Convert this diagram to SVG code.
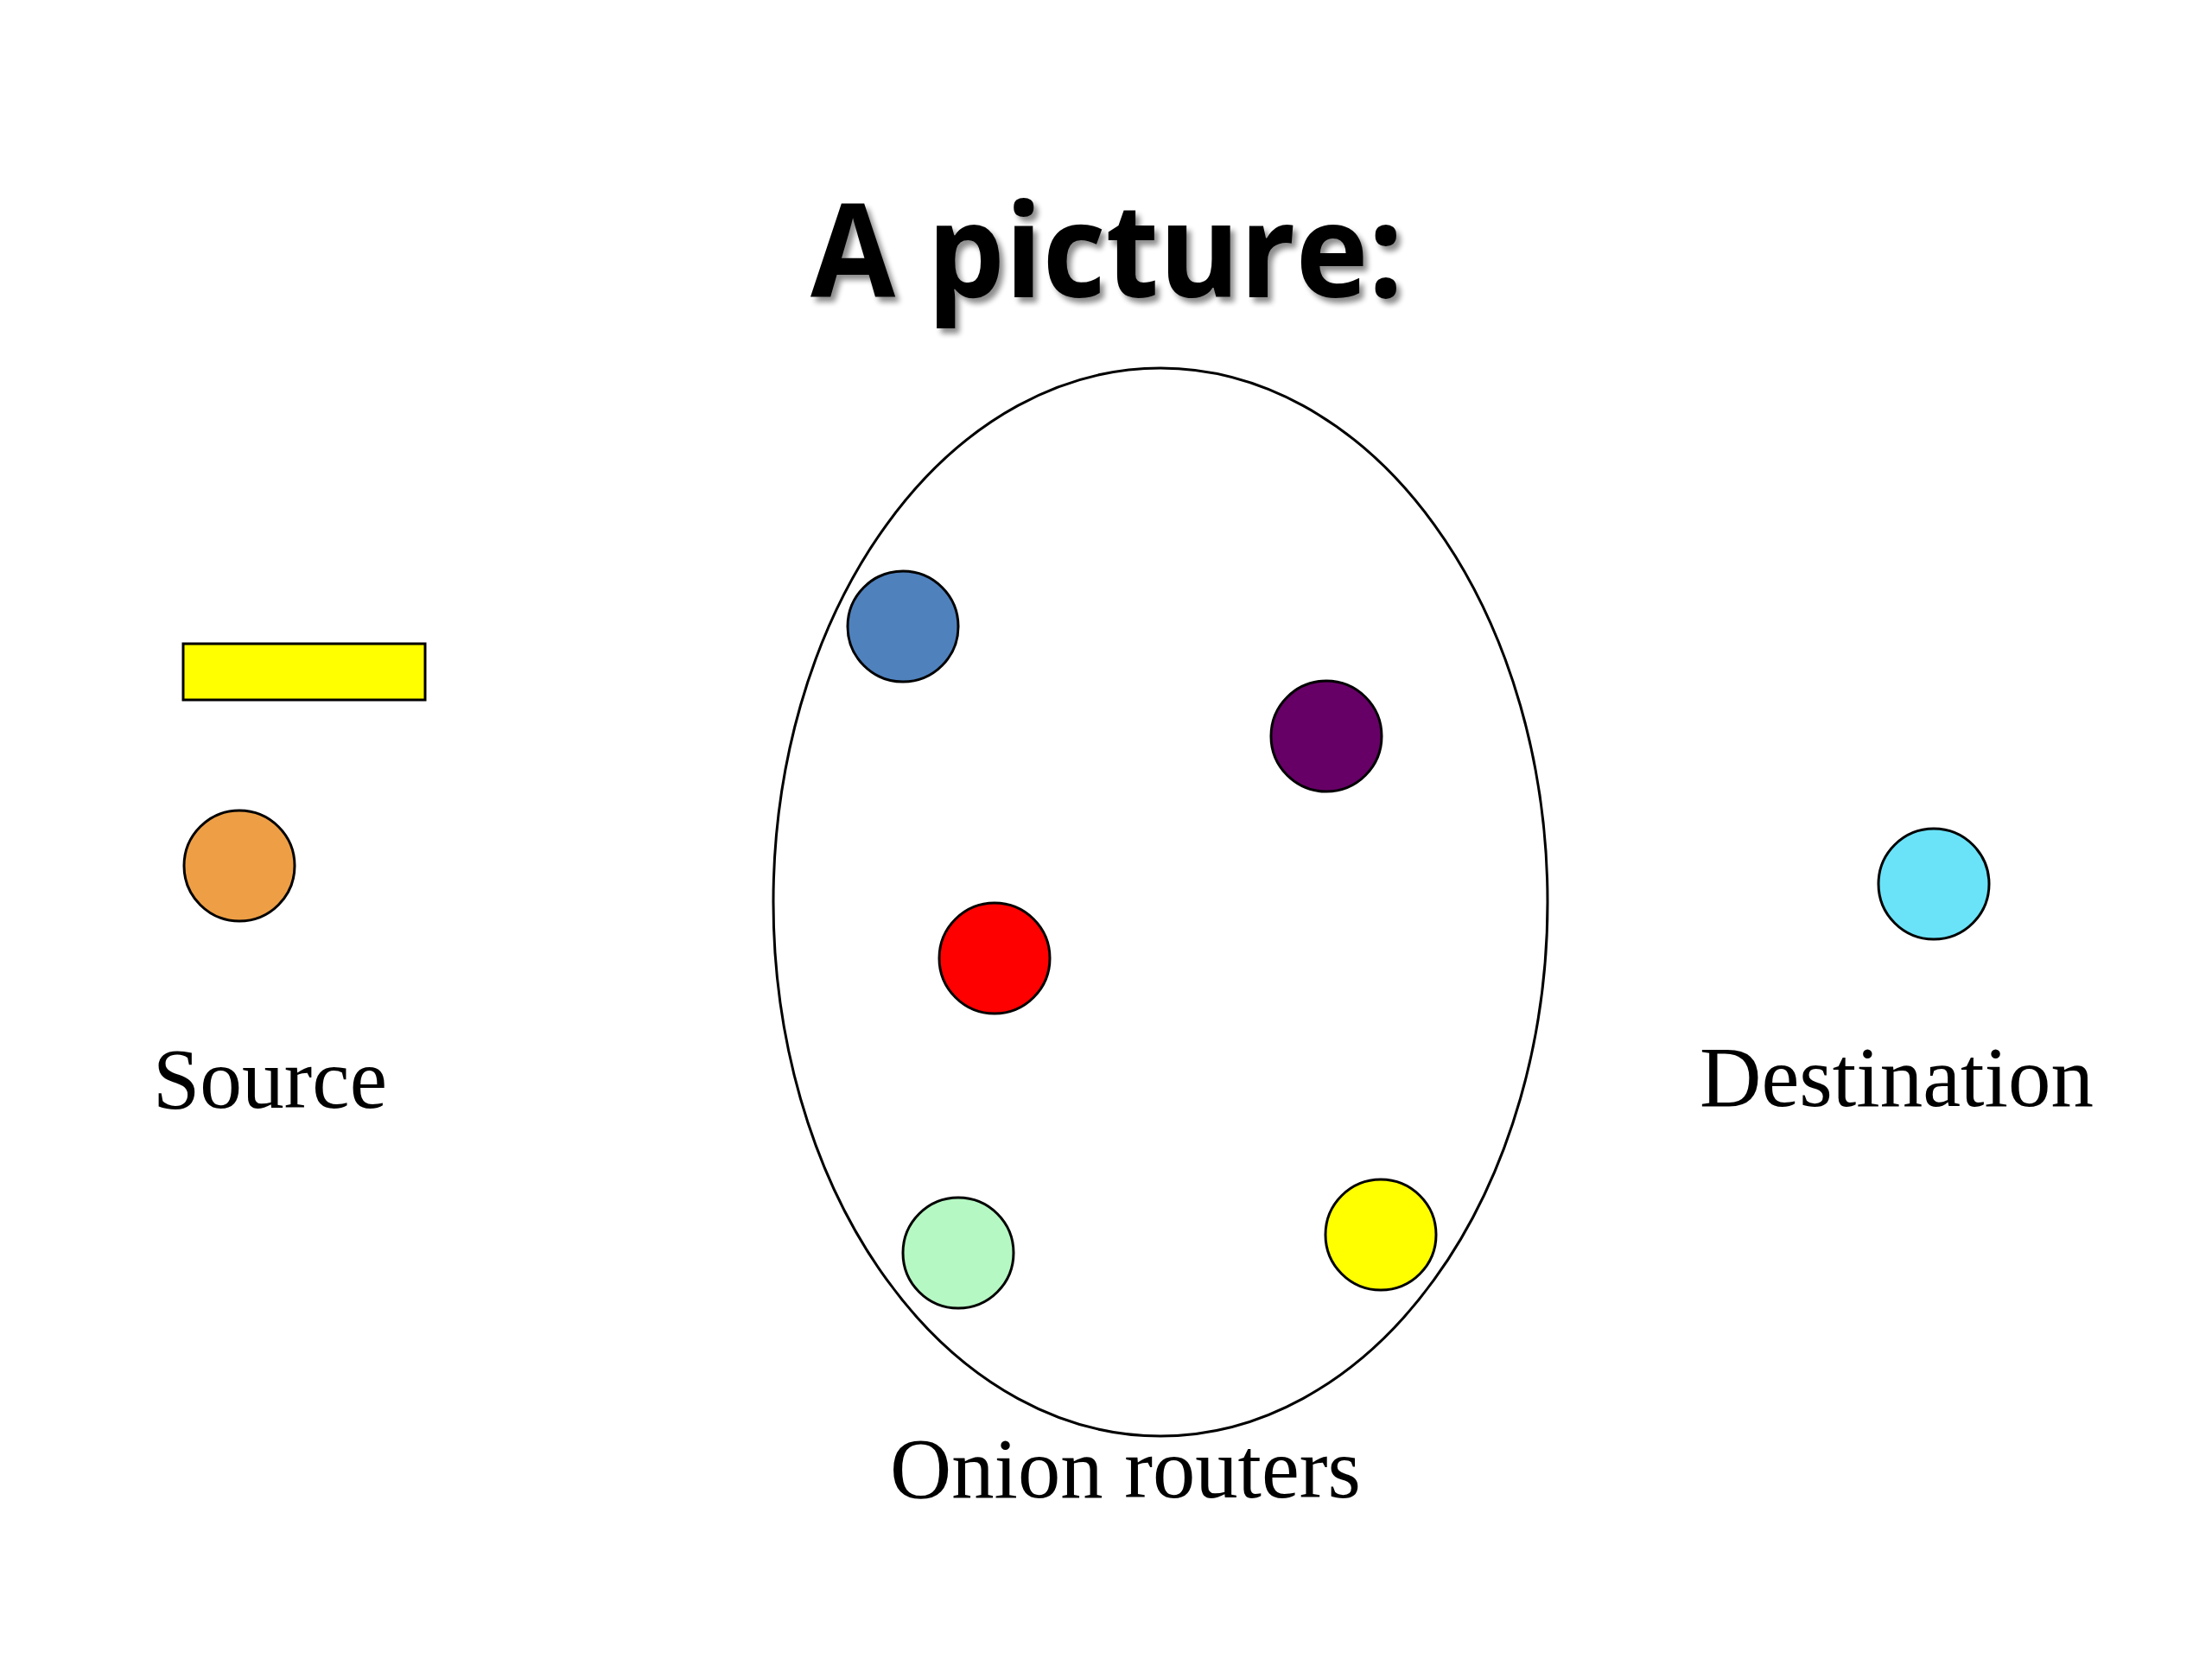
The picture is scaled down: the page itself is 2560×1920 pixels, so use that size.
<svg xmlns="http://www.w3.org/2000/svg" width="2560" height="1920" viewBox="0 0 2560 1920">
  <defs>
    <filter id="shadow" x="-10%" y="-20%" width="120%" height="150%">
      <feGaussianBlur in="SourceAlpha" stdDeviation="3"/>
      <feOffset dx="5" dy="6" result="b"/>
      <feComponentTransfer><feFuncA type="linear" slope="0.45"/></feComponentTransfer>
      <feMerge><feMergeNode/><feMergeNode in="SourceGraphic"/></feMerge>
    </filter>
  </defs>
  <style>
    .node { stroke: #000; stroke-width: 3; }
    .label { font-family: "Liberation Serif", "Times New Roman", serif; font-size: 99px; fill: #000; }
    .title { font-family: "Open Sans", "Liberation Sans", sans-serif; font-weight: bold; font-size: 151px; fill: #000; }
  </style>
  <rect width="2560" height="1920" fill="#ffffff"/>

  <g id="title">
    <text class="title" x="938" y="344" textLength="686" lengthAdjust="spacingAndGlyphs" filter="url(#shadow)">A picture:</text>
  </g>

  <g id="onion-routers-group">
    <ellipse cx="1343" cy="1044" rx="448" ry="618" fill="none" stroke="#000" stroke-width="3"/>
    <text class="label" x="1030" y="1733" textLength="545" lengthAdjust="spacingAndGlyphs">Onion routers</text>
  </g>

  <g id="connectors"></g>

  <g id="message">
    <rect class="node" x="212" y="745" width="280" height="65" fill="#FFFF00"/>
  </g>

  <g id="source">
    <circle class="node" cx="277" cy="1002" r="64" fill="#EE9F45"/>
    <text class="label" x="177" y="1282" textLength="271" lengthAdjust="spacingAndGlyphs">Source</text>
  </g>

  <g id="router-blue">
    <circle class="node" cx="1045" cy="725" r="64" fill="#4F81BD"/>
  </g>
  <g id="router-purple">
    <circle class="node" cx="1535" cy="852" r="64" fill="#660066"/>
  </g>
  <g id="router-red">
    <circle class="node" cx="1151" cy="1109" r="64" fill="#FF0000"/>
  </g>
  <g id="router-green">
    <circle class="node" cx="1109" cy="1450" r="64" fill="#B5F8C3"/>
  </g>
  <g id="router-yellow">
    <circle class="node" cx="1598" cy="1429" r="64" fill="#FFFF00"/>
  </g>

  <g id="destination">
    <circle class="node" cx="2238" cy="1023" r="64" fill="#6AE3F9"/>
    <text class="label" x="1967" y="1280" textLength="456" lengthAdjust="spacingAndGlyphs">Destination</text>
  </g>
</svg>
